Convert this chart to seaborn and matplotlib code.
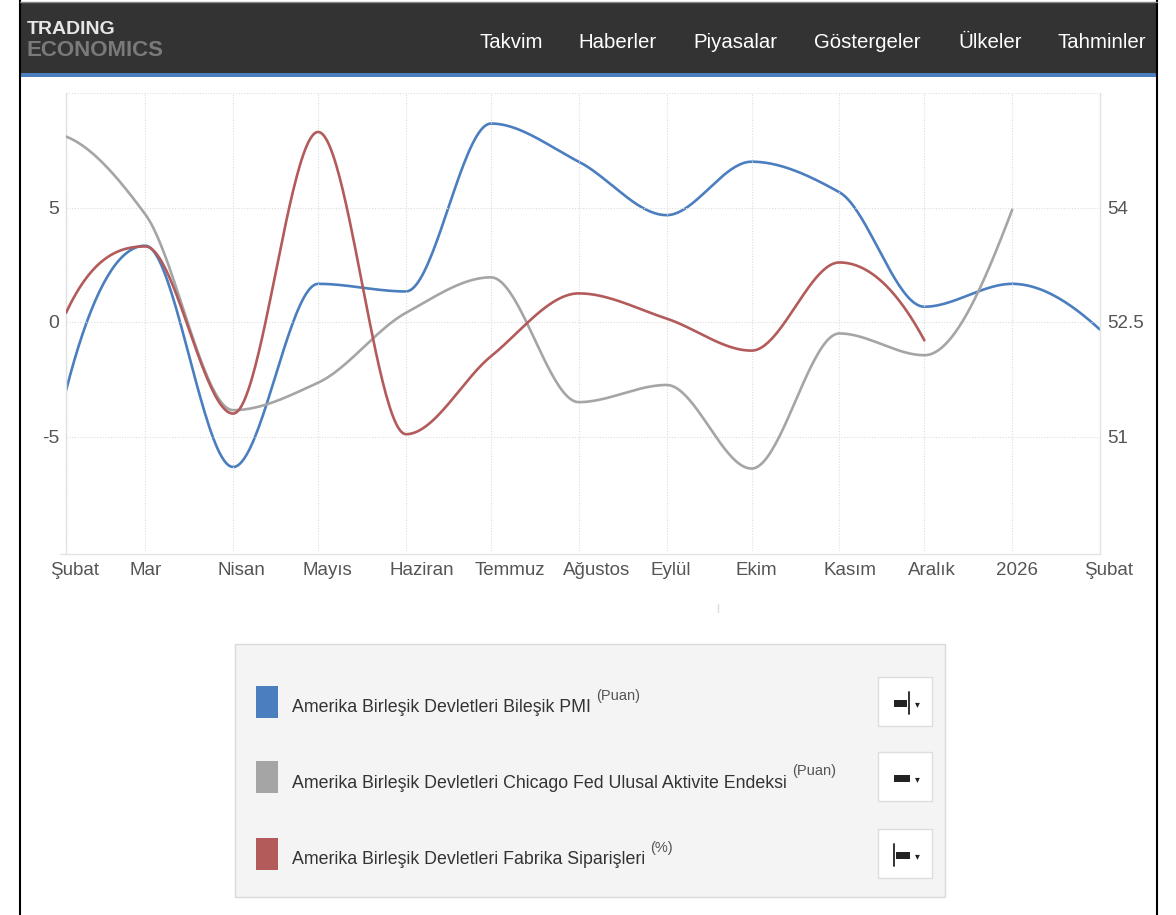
import numpy as np
import pandas as pd
import matplotlib
matplotlib.use("Agg")
import matplotlib.pyplot as plt
import seaborn as sns
from matplotlib.patches import Rectangle
from matplotlib.transforms import ScaledTranslation

# -----------------------------
# Data
# -----------------------------
months = pd.date_range("2025-02-01", "2026-02-01", freq="MS")
month_labels = ["Şubat", "Mar", "Nisan", "Mayıs", "Haziran", "Temmuz", "Ağustos",
                "Eylül", "Ekim", "Kasım", "Aralık", "2026", "Şubat"]

pmi = [51.6, 53.5, 50.6, 53.0, 52.9, 55.1, 54.6, 53.9, 54.6, 54.2, 52.7, 53.0, 52.4]
chicago_fed = [8.1, 4.7, -3.85, -2.65, 0.4, 1.95, -3.5, -2.75, -6.4, -0.5, -1.45, 4.9]
factory_orders = [0.4, 3.3, -4.0, 8.3, -4.9, -1.5, 1.25, 0.15, -1.25, 2.6, -0.8]

series_names = ["Amerika Birleşik Devletleri Bileşik PMI",
                "Amerika Birleşik Devletleri Chicago Fed Ulusal Aktivite Endeksi",
                "Amerika Birleşik Devletleri Fabrika Siparişleri"]
series_units = ["(Puan)", "(Puan)", "(%)"]
colors = ["#4a7ebf", "#a5a5a5", "#b35a5a"]

menu_items = ["Takvim", "Haberler", "Piyasalar", "Göstergeler", "Ülkeler", "Tahminler"]
menu_x = [479, 578, 693, 814, 958, 1058]

W, H = 1176, 915
FAM = ["Liberation Sans", "DejaVu Sans"]

sns.set_style("white")
plt.rcParams["font.family"] = FAM


def px(x, y):
    return x / W, 1 - y / H


def pchip(x, y, xs):
    # monotone cubic, to mimic the smooth spline of the original
    x = np.asarray(x, float)
    y = np.asarray(y, float)
    h = np.diff(x)
    d = np.diff(y) / h
    n = len(x)
    m = np.zeros(n)
    for k in range(1, n - 1):
        if d[k - 1] * d[k] > 0:
            w1 = 2 * h[k] + h[k - 1]
            w2 = h[k] + 2 * h[k - 1]
            m[k] = (w1 + w2) / (w1 / d[k - 1] + w2 / d[k])
    m[0] = ((2 * h[0] + h[1]) * d[0] - h[0] * d[1]) / (h[0] + h[1])
    if np.sign(m[0]) != np.sign(d[0]):
        m[0] = 0
    m[-1] = ((2 * h[-1] + h[-2]) * d[-1] - h[-1] * d[-2]) / (h[-1] + h[-2])
    if np.sign(m[-1]) != np.sign(d[-1]):
        m[-1] = 0
    i = np.clip(np.searchsorted(x, xs) - 1, 0, n - 2)
    t = (xs - x[i]) / h[i]
    h00 = 2 * t**3 - 3 * t**2 + 1
    h10 = t**3 - 2 * t**2 + t
    h01 = -2 * t**3 + 3 * t**2
    h11 = t**3 - t**2
    return h00 * y[i] + h10 * h[i] * m[i] + h01 * y[i + 1] + h11 * h[i] * m[i + 1]


def smooth(values):
    dates = months[:len(values)]
    x = np.asarray((dates - dates[0]).days, float)
    xs = np.linspace(x[0], x[-1], 500)
    ys = pchip(x, values, xs)
    return pd.DataFrame({"date": dates[0] + pd.to_timedelta(xs, unit="D"), "value": ys})


fig = plt.figure(figsize=(W / 100, H / 100), dpi=100, facecolor="white")

# -----------------------------
# Page frame and header bar
# -----------------------------
fig.patches.append(Rectangle(px(20, 73), 1137 / W, 71 / H, transform=fig.transFigure,
                             facecolor="#333333", edgecolor="none", zorder=1))
fig.patches.append(Rectangle(px(20, 77), 1137 / W, 4 / H, transform=fig.transFigure,
                             facecolor="#4a7ebf", edgecolor="none", zorder=1))
for xl in (20, 1157):
    fig.add_artist(plt.Line2D([xl / W, xl / W], [0, 1], color="black", lw=1.5, zorder=5))
fig.add_artist(plt.Line2D([20 / W, 1157 / W], [1 - 2 / H, 1 - 2 / H], color="#888888", lw=1, zorder=5))

fig.text(*px(27, 29), "TRADING", color="#e6e6e6", fontsize=14, fontweight="bold",
         va="center", ha="left", zorder=6)
fig.text(*px(26, 51), "ECONOMICS", color="#7a7a7a", fontsize=16, fontweight="bold",
         va="center", ha="left", zorder=6)
for label, xm in zip(menu_items, menu_x):
    fig.text(*px(xm, 42), label, color="white", fontsize=14.7, va="center", ha="left", zorder=6)

# -----------------------------
# Chart
# -----------------------------
left, right, top, bottom = 66, 1100, 93, 551
ax = fig.add_axes([left / W, 1 - bottom / H, (right - left) / W, (bottom - top) / H])
ax2 = ax.twinx()

sns.lineplot(data=smooth(pmi), x="date", y="value", ax=ax2, color=colors[0],
             lw=1.9, estimator=None, sort=False)
sns.lineplot(data=smooth(chicago_fed), x="date", y="value", ax=ax, color=colors[1],
             lw=1.9, estimator=None, sort=False)
sns.lineplot(data=smooth(factory_orders), x="date", y="value", ax=ax, color=colors[2],
             lw=1.9, estimator=None, sort=False)

ax.set_zorder(ax2.get_zorder() + 1)
ax.patch.set_visible(False)

ax.set_xlim(months[0], months[-1])
ax.set_ylim(-10, 10)
ax2.set_ylim(49.5, 55.5)

ax.set_xticks(months)
ax.set_xticklabels(month_labels)
ax.set_yticks([-5, 0, 5, 10])
ax.set_yticklabels(["-5", "0", "5", ""])
ax2.set_yticks([51, 52.5, 54])
ax2.set_yticklabels(["51", "52.5", "54"])

for a in (ax, ax2):
    a.set_xlabel("")
    a.set_ylabel("")
    a.tick_params(length=0, labelsize=13.5, labelcolor="#555555")
    for s in a.spines.values():
        s.set_visible(False)
ax.tick_params(axis="y", pad=5, labelsize=14)
ax2.tick_params(axis="y", pad=5)
ax.tick_params(axis="x", pad=8)

ax.grid(True, color="#dddddd", linestyle=(0, (1, 1.5)), lw=0.8)
ax2.grid(False)

for lab in ax.get_xticklabels():
    lab.set_horizontalalignment("left")
    lab.set_transform(lab.get_transform() + ScaledTranslation(-16 / 100, 0, fig.dpi_scale_trans))

for xs_, ys_ in [([left, left], [top, 554]), ([right, right], [top, 554]),
                 ([60, right], [554, 554])]:
    fig.add_artist(plt.Line2D([v / W for v in xs_], [1 - v / H for v in ys_],
                              color="#e3e3e3", lw=1, zorder=0.5))
fig.add_artist(plt.Line2D([718 / W, 718 / W], [1 - 604 / H, 1 - 612 / H], color="#dddddd", lw=1))

# -----------------------------
# Legend panel
# -----------------------------
fig.patches.append(Rectangle(px(235, 897), 710 / W, 253 / H, transform=fig.transFigure,
                             facecolor="#f4f4f4", edgecolor="#dadada", lw=1, zorder=2))
renderer = fig.canvas.get_renderer()
rows_y = [702, 777, 854]
for name, unit, c, ry in zip(series_names, series_units, colors, rows_y):
    fig.patches.append(Rectangle(px(256, ry + 16), 22 / W, 32 / H, transform=fig.transFigure,
                                 facecolor=c, edgecolor="none", zorder=3))
    t = fig.text(*px(292, ry + 6), name, color="#333333", fontsize=12.8,
                 va="center", ha="left", zorder=4)
    bb = t.get_window_extent(renderer=renderer)
    fig.text(bb.x1 / W + 5 / W, 1 - (ry - 6) / H, unit, color="#555555", fontsize=10.5,
             va="center", ha="left", zorder=4)
    # small toolbar button on the right
    fig.patches.append(Rectangle(px(878, ry + 24), 54 / W, 49 / H, transform=fig.transFigure,
                                 facecolor="white", edgecolor="#dddddd", lw=1, zorder=3))
    fig.text(*px(917, ry + 2), "▾", color="#222222", fontsize=7, va="center",
             ha="center", family="DejaVu Sans", zorder=5)

# button glyphs
fig.patches.append(Rectangle(px(894, rows_y[0] + 5), 13 / W, 7 / H, transform=fig.transFigure,
                             facecolor="#222222", edgecolor="none", zorder=5))
fig.add_artist(plt.Line2D([909 / W] * 2, [1 - (rows_y[0] - 10) / H, 1 - (rows_y[0] + 12) / H],
                          color="#222222", lw=1.3, zorder=5))
fig.patches.append(Rectangle(px(894, rows_y[1] + 5), 16 / W, 7 / H, transform=fig.transFigure,
                             facecolor="#222222", edgecolor="none", zorder=5))
fig.add_artist(plt.Line2D([894 / W] * 2, [1 - (rows_y[2] - 10) / H, 1 - (rows_y[2] + 12) / H],
                          color="#222222", lw=1.3, zorder=5))
fig.patches.append(Rectangle(px(896, rows_y[2] + 5), 14 / W, 7 / H, transform=fig.transFigure,
                             facecolor="#222222", edgecolor="none", zorder=5))

fig.savefig("out.png", dpi=100, facecolor="white")
